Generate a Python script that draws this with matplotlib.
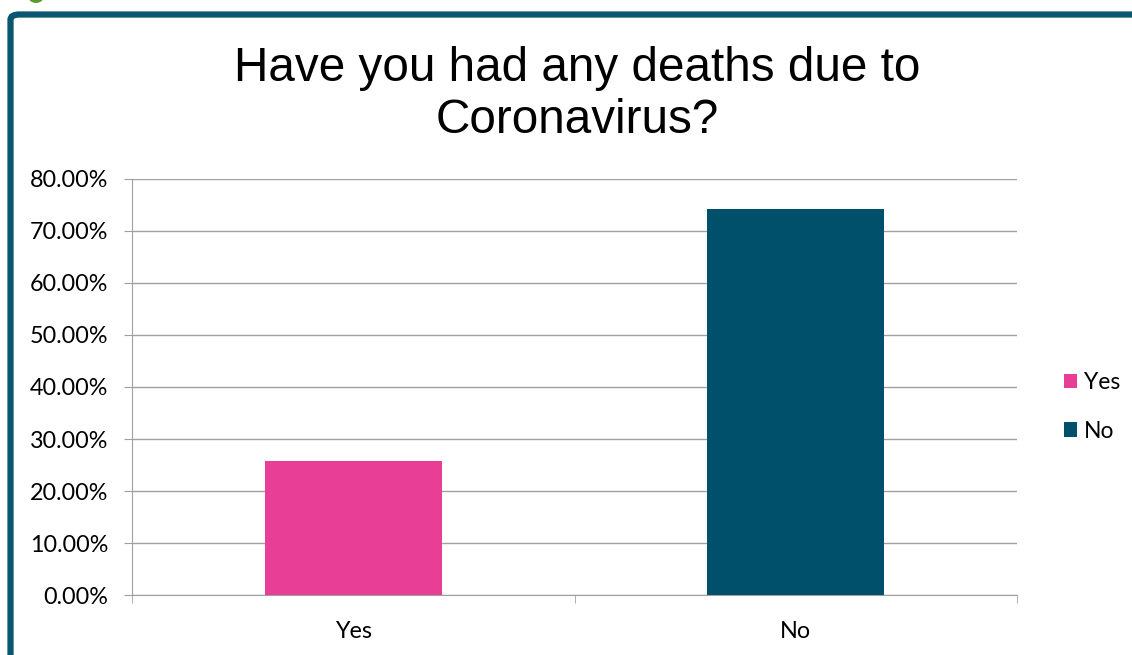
import matplotlib
matplotlib.use("Agg")
import matplotlib.pyplot as plt
from matplotlib.patches import FancyBboxPatch, Ellipse, Patch
from matplotlib.ticker import FuncFormatter, FixedLocator

categories = ["Yes", "No"]
values = [25.77, 74.23]
colors = ["#E83E96", "#004F6B"]
title = "Have you had any deaths due to\nCoronavirus?"

fig = plt.figure(figsize=(11.32, 6.55), dpi=100)
fig.patch.set_facecolor("white")

# frame
frame = FancyBboxPatch((10.5/1132, -0.2), 1.3, 1.2 - 14.5/655,
                       boxstyle="round,pad=0,rounding_size=0.008",
                       transform=fig.transFigure, fill=False,
                       edgecolor="#0A5570", linewidth=4.5, zorder=0)
fig.patches.append(frame)
# small green logo arc at top-left
logo = Ellipse((36/1132, 1 + 4/655), 16/1132, 14/655, transform=fig.transFigure,
               facecolor="#5A9A32", edgecolor="none")
fig.patches.append(logo)

ax = fig.add_axes([132/1132, 60/655, 885/1132, 416/655])
x = list(range(len(categories)))
ax.bar(x, values, width=0.4, color=colors, zorder=3)
ax.set_xlim(-0.5, len(categories) - 0.5)
ax.set_ylim(0, 80)
ax.set_yticks(range(0, 81, 10))
ax.yaxis.set_major_formatter(FuncFormatter(lambda v, p: f"{v:.2f}%"))
ax.set_xticks(x)
ax.set_xticklabels(categories)
ax.xaxis.set_minor_locator(FixedLocator([-0.5, 0.5, 1.5]))
ax.tick_params(axis="x", which="major", length=0, pad=19, labelsize=16.8)
ax.tick_params(axis="x", which="minor", length=6, color="#A0A0A0", direction="out")
ax.tick_params(axis="y", length=6, color="#A0A0A0", labelsize=16.8, pad=11)
for lab in ax.get_xticklabels() + ax.get_yticklabels():
    lab.set_fontfamily("Lato")
ax.grid(axis="y", color="#A0A0A0", linewidth=1, zorder=0)
for s in ["top", "right"]:
    ax.spines[s].set_visible(False)
ax.spines["left"].set_color("#A0A0A0")
ax.spines["bottom"].set_color("#A0A0A0")

fig.text(577/1132, 1 - 94.5/655, title, ha="center", va="center",
         fontsize=34.3, family="Liberation Sans", linespacing=1.19)

handles = [Patch(facecolor=c, edgecolor="none") for c in colors]
leg = fig.legend(handles, categories, loc="center left",
                 bbox_to_anchor=(1043/1132, 1 - 407/655), frameon=False,
                 prop={"family": "Lato", "size": 16.5},
                 handlelength=0.6, handleheight=0.6, handletextpad=0.3,
                 labelspacing=1.2)

fig.savefig("out.png", dpi=100)
